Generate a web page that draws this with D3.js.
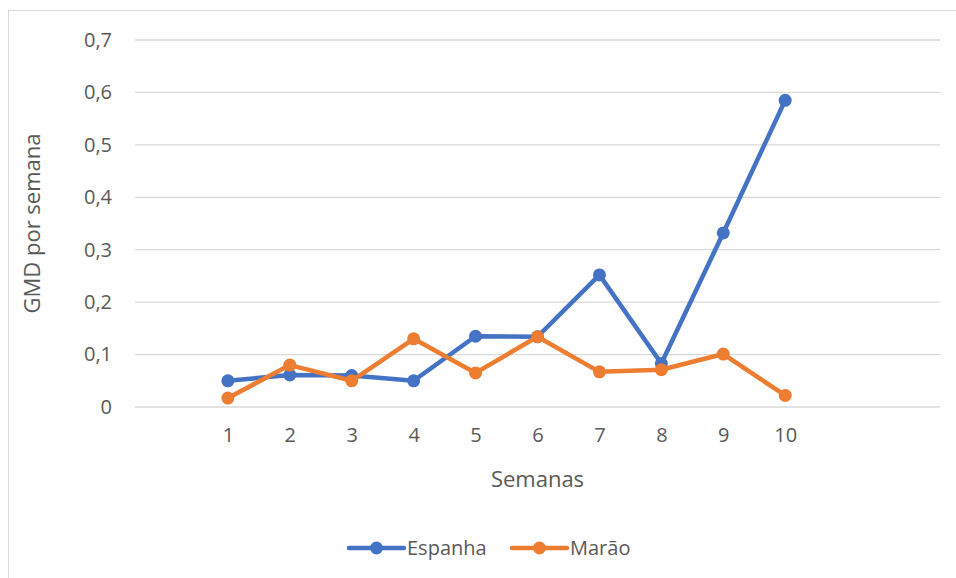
<!DOCTYPE html>
<html>
<head>
<meta charset="utf-8">
<script src="https://cdn.jsdelivr.net/npm/d3@7"></script>
<style>
  body { margin: 0; background: #fff; }
  text { font-family: "Open Sans", Lato, sans-serif; fill: #595959; }
</style>
</head>
<body>
<div id="chart"></div>
<script>
// data
const semanas = ["1", "2", "3", "4", "5", "6", "7", "8", "9", "10"];
const espanha = [0.05, 0.061, 0.06, 0.05, 0.135, 0.134, 0.252, 0.083, 0.332, 0.585];
const marao = [0.017, 0.08, 0.05, 0.13, 0.065, 0.134, 0.067, 0.071, 0.101, 0.022];
const yTicks = [0, 0.1, 0.2, 0.3, 0.4, 0.5, 0.6, 0.7];

const seriesList = [
  { name: "Espanha", values: espanha, color: "#4472C4" },
  { name: "Marão", values: marao, color: "#ED7D31" }
];

let w = 956;
let h = 578;
let svg = d3.select("#chart")
  .append("svg")
  .attr("width", w)
  .attr("height", h);

// chart border (clipped on right / bottom like the screenshot)
svg.append("rect")
  .attr("x", 8.5).attr("y", 10.5)
  .attr("width", 960).attr("height", 600)
  .attr("fill", "none")
  .attr("stroke", "#d9d9d9");

const plotLeft = 135, plotRight = 940, plotTop = 40, plotBottom = 407;

// 13 category slots: one empty before, two empty after
let xScale = d3.scaleLinear()
  .domain([-0.5, 12.5])
  .range([plotLeft, plotRight]);

let yScale = d3.scaleLinear()
  .domain([0, 0.7])
  .range([plotBottom, plotTop]);

const fmt = d => d === 0 ? "0" : d3.format(".1f")(d).replace(".", ",");

// gridlines
svg.append("g")
  .selectAll("line")
  .data(yTicks)
  .enter()
  .append("line")
  .attr("x1", plotLeft).attr("x2", plotRight)
  .attr("y1", d => yScale(d)).attr("y2", d => yScale(d))
  .attr("stroke", "#d9d9d9")
  .attr("stroke-width", 1.3);

// y axis labels
let yAxis = d3.axisLeft(yScale).tickValues(yTicks).tickFormat(fmt).tickSize(0).tickPadding(23);
let gy = svg.append("g").attr("transform", "translate(" + plotLeft + ",0)").call(yAxis);
gy.select(".domain").remove();
gy.selectAll("text").style("font-size", "20px").attr("fill", "#595959");

// x axis labels
let xAxis = d3.axisBottom(xScale)
  .tickValues(semanas.map((s, i) => i + 1))
  .tickFormat(d => semanas[d - 1])
  .tickSize(0).tickPadding(21);
let gx = svg.append("g").attr("transform", "translate(0," + plotBottom + ")").call(xAxis);
gx.select(".domain").remove();
gx.selectAll("text").style("font-size", "20px").attr("fill", "#595959");

// axis titles
svg.append("text")
  .attr("x", (plotLeft + plotRight) / 2)
  .attr("y", 487)
  .attr("text-anchor", "middle")
  .style("font-size", "22px")
  .text("Semanas");

svg.append("text")
  .attr("transform", "translate(40," + ((plotTop + plotBottom) / 2) + ") rotate(-90)")
  .attr("text-anchor", "middle")
  .style("font-size", "22px")
  .text("GMD por semana");

// lines + markers
let line = d3.line()
  .x((d, i) => xScale(i + 1))
  .y(d => yScale(d));

seriesList.forEach(s => {
  svg.append("path")
    .datum(s.values)
    .attr("d", line)
    .attr("fill", "none")
    .attr("stroke", s.color)
    .attr("stroke-width", 4.5)
    .attr("stroke-linejoin", "round")
    .attr("stroke-linecap", "round");

  svg.append("g")
    .selectAll("circle")
    .data(s.values)
    .enter()
    .append("circle")
    .attr("cx", (d, i) => xScale(i + 1))
    .attr("cy", d => yScale(d))
    .attr("r", 6.5)
    .attr("fill", s.color);
});

// legend
const legendX = [349, 512];
seriesList.forEach((s, i) => {
  let g = svg.append("g").attr("transform", "translate(" + legendX[i] + ",548)");
  g.append("line")
    .attr("x1", 0).attr("x2", 55)
    .attr("stroke", s.color)
    .attr("stroke-width", 4.5)
    .attr("stroke-linecap", "round");
  g.append("circle").attr("cx", 27.5).attr("r", 6.5).attr("fill", s.color);
  g.append("text")
    .attr("x", 58).attr("y", 7)
    .style("font-size", "20px")
    .text(s.name);
});
</script>
</body>
</html>
